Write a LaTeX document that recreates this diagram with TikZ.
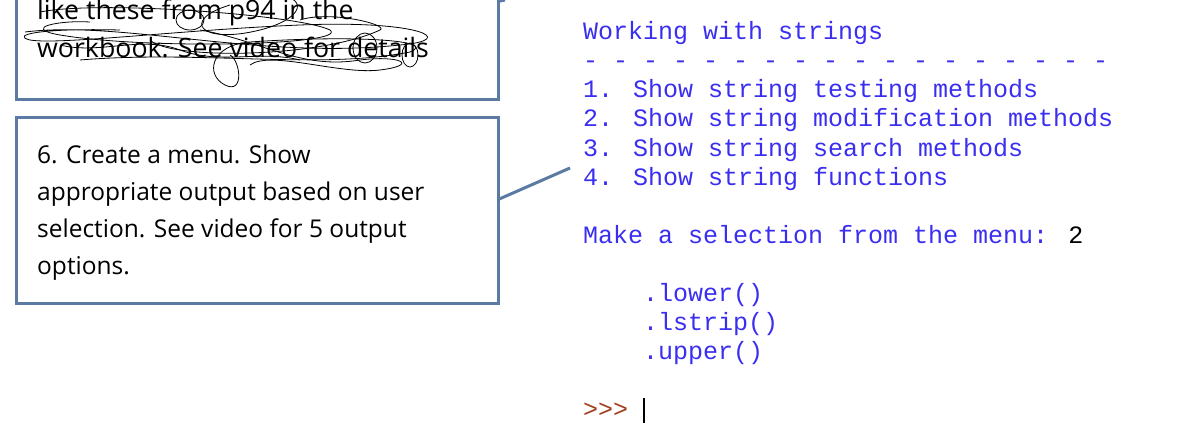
\documentclass[tikz,border=0pt]{standalone}
\usepackage{fontspec}
\setmainfont{Open Sans}
\newfontfamily\mono{Liberation Mono}
\begin{document}
\begin{tikzpicture}[x=1pt,y=-1pt,
  box/.style={draw=boxc,line width=3pt,fill=white},
  code/.style={anchor=base west,inner sep=0pt,font=\mono\fontsize{25}{29}\selectfont,text=codec},
  btxt/.style={anchor=base west,inner sep=0pt,font=\fontsize{24.5}{32}\selectfont},
  ttxt/.style={anchor=base west,inner sep=0pt,font=\fontsize{26.7}{32}\selectfont}]
\definecolor{boxc}{HTML}{5B7BA3}
\definecolor{codec}{HTML}{3A2EF0}
\definecolor{prompt}{HTML}{A0401E}
\useasboundingbox (0,0) rectangle (1188,441);
% callout lines
\coordinate (t1) at (505,0);
\coordinate (t2) at (570,168);
\draw[boxc,line width=3pt] (490,3) -- (t1);
\draw[boxc,line width=3pt] (497,200) -- (t2);
\node[box,minimum width=482pt,minimum height=116pt,anchor=south west,inner sep=0pt] (b1) at (15,101) {};
\node[box,minimum width=482pt,minimum height=186pt,anchor=north west,inner sep=0pt] (b2) at (15,116) {};
\node[ttxt] (l1) at (37,20) {like these from p94 in the};
\node[ttxt] (l2) at (37,58) {workbook. See video for details};
\begin{scope}[black,line width=0.8pt]
\draw (25,32) .. controls (120,20) and (260,60) .. (400,45)
  .. controls (460,40) and (420,20) .. (300,25) .. controls (180,30) and (60,45) .. (30,40)
  .. controls (10,35) and (40,28) .. (120,30);
\draw (80,60) .. controls (200,50) and (320,70) .. (410,52)
  .. controls (440,40) and (350,35) .. (250,42) .. controls (210,45) and (205,75) .. (225,85)
  .. controls (245,95) and (240,60) .. (230,55);
\draw (230,5) .. controls (180,20) and (200,45) .. (260,30)
  .. controls (300,20) and (310,0) .. (280,-5);
\draw (365,48) ellipse (12 and 15);
\draw (150,40) .. controls (170,60) and (320,58) .. (380,30)
  .. controls (390,25) and (330,10) .. (300,20);
\draw (40,12) .. controls (100,0) and (300,15) .. (330,30) .. controls (350,45) and (150,50) .. (60,35)
  .. controls (20,28) and (60,20) .. (90,22);
\draw (200,30) .. controls (260,40) and (300,70) .. (360,60) .. controls (400,55) and (420,65) .. (380,70)
  .. controls (340,75) and (270,50) .. (250,65);
\draw (60,45) .. controls (100,55) and (140,35) .. (180,50) .. controls (220,65) and (260,50) .. (300,60);
\draw (410,55) ellipse (8 and 12);
\draw (190,20) ellipse (14 and 10);
\end{scope}
\node[btxt] (m1) at (37,163) {6. Create a menu. Show};
\node[btxt] (m2) at (37,200) {appropriate output based on user};
\node[btxt] (m3) at (37,237) {selection. See video for 5 output};
\node[btxt] (m4) at (37,274) {options.};
% code
\node[code] (c1) at (583,40) {Working with strings};
\node[code] (c2) at (583,69) {- - - - - - - - - - - - - - - - - -};
\node[code] (c3) at (583,98) {1. Show string testing methods};
\node[code] (c4) at (583,127) {2. Show string modification methods};
\node[code] (c5) at (583,156) {3. Show string search methods};
\node[code] (c6) at (583,185) {4. Show string functions};
\node[code] (c7) at (583,243) {Make a selection from the menu: {\color{black}2}};
\node[code] (c8) at (643,301) {.lower()};
\node[code] (c9) at (643,330) {.lstrip()};
\node[code] (c10) at (643,359) {.upper()};
\node[code,text=prompt] (c11) at (583,417) {>>>};
\coordinate (k1) at (644,398);
\coordinate (k2) at (644,423);
\draw[black,line width=2pt] (k1) -- (k2);
\end{tikzpicture}
\end{document}
